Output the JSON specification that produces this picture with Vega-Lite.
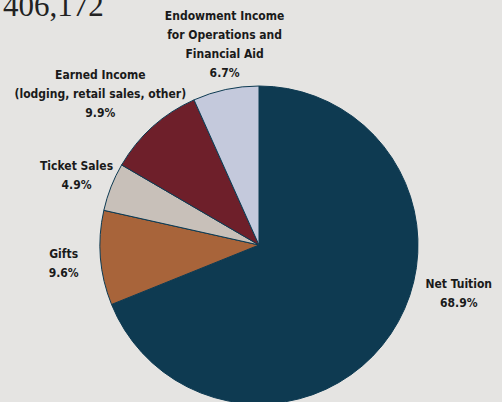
{
  "$schema": "https://vega.github.io/schema/vega-lite/v6.json",
  "description": "Pie chart of revenue sources, Net Tuition being the largest share.",
  "width": 486,
  "height": 314,
  "autosize": {"type": "none"},
  "padding": {"left": 16, "top": 88, "right": 0, "bottom": 0},
  "background": "#e5e4e2",
  "view": {"stroke": null},
  "title": {
    "text": "406,172",
    "anchor": "start",
    "frame": "group",
    "font": "Liberation Serif",
    "fontSize": 31,
    "fontWeight": "normal",
    "color": "#222222",
    "baseline": "alphabetic",
    "dx": -13,
    "offset": -37
  },
  "config": {
    "text": {
      "font": "Liberation Sans Narrow, DejaVu Sans Condensed, sans-serif",
      "fontWeight": "bold",
      "fontSize": 12,
      "lineHeight": 19,
      "color": "#1a1a1a",
      "align": "center",
      "baseline": "middle"
    }
  },
  "data": {
    "values": [
      {"k": 1, "name": "Net Tuition", "label": "Net Tuition", "value": 68.9},
      {"k": 2, "name": "Gifts", "label": "Gifts", "value": 9.6},
      {"k": 3, "name": "Ticket Sales", "label": "Ticket Sales", "value": 4.9},
      {"k": 4, "name": "Earned Income", "label": "Earned Income\n(lodging, retail sales, other)", "value": 9.9},
      {"k": 5, "name": "Endowment Income", "label": "Endowment Income\nfor Operations and\nFinancial Aid", "value": 6.7}
    ]
  },
  "transform": [
    {"calculate": "split(datum.label + '\\n' + format(datum.value, '.1f') + '%', '\\n')", "as": "txt"}
  ],
  "encoding": {
    "theta": {"field": "value", "type": "quantitative", "stack": true},
    "order": {"field": "k", "type": "quantitative"}
  },
  "layer": [
    {
      "mark": {"type": "arc", "radius": 159, "stroke": "#0d3a52", "strokeWidth": 1},
      "encoding": {
        "color": {
          "field": "name",
          "type": "nominal",
          "legend": null,
          "scale": {
            "domain": ["Net Tuition", "Gifts", "Ticket Sales", "Earned Income", "Endowment Income"],
            "range": ["#0e3a51", "#a8643a", "#c8c0b9", "#6e1f2a", "#c4c9dc"]
          }
        }
      }
    },
    {
      "transform": [{"calculate": "datum.name == 'Gifts' || datum.name == 'Ticket Sales' ? datum.txt : ''", "as": "shown"}],
      "mark": {"type": "text", "radius": 196, "dy": -7},
      "encoding": {"text": {"field": "shown"}}
    },
    {
      "transform": [{"calculate": "datum.name == 'Earned Income' ? datum.txt : ''", "as": "shown"}],
      "mark": {"type": "text", "radius": 215, "dx": -15, "dy": -10},
      "encoding": {"text": {"field": "shown"}}
    },
    {
      "transform": [{"calculate": "datum.name == 'Endowment Income' ? datum.txt : ''", "as": "shown"}],
      "mark": {"type": "text", "radius": 203, "dx": 8, "dy": -30},
      "encoding": {"text": {"field": "shown"}}
    },
    {
      "transform": [{"calculate": "datum.name == 'Net Tuition' ? datum.txt : ''", "as": "shown"}],
      "mark": {"type": "text", "radius": 60, "dx": 150, "dy": 5},
      "encoding": {"text": {"field": "shown"}}
    }
  ]
}
